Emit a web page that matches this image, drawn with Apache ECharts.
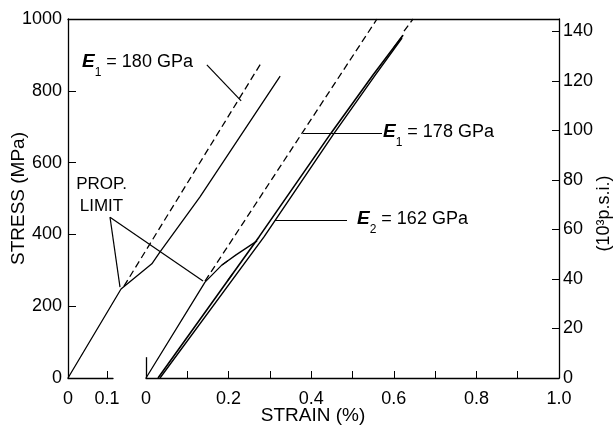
<!DOCTYPE html>
<html>
<head>
<meta charset="utf-8">
<script src="https://cdn.jsdelivr.net/npm/echarts@6/dist/echarts.min.js"></script>
<style>html,body{margin:0;padding:0;background:#fff}#c{width:616px;height:436px}</style>
</head>
<body>
<div id="c"></div>
<script>
// ---- data (strain in %, stress in MPa) ----
// first specimen, plotted against the left (short) strain origin
const curve1Strain = [0, 0.136, 0.215, 0.236, 0.338, 0.544];
const curve1Stress = [0, 248, 318, 351, 504, 841];
const tangent1Strain = [0.1436, 0.4949];          // E1 = 180 GPa
const tangent1Stress = [256, 877];
// second specimen, plotted against the right strain origin
const curve2Strain = [0, 0.1429, 0.184, 0.218, 0.269];
const curve2Stress = [0, 267, 315, 343, 382];
const loopAStrain = [0.0291, 0.2736, 0.4479, 0.5496, 0.6223];
const loopAStress = [0, 393, 682, 844, 955];
const loopBStrain = [0.0339, 0.2857, 0.4528, 0.5533, 0.6199];
const loopBStress = [0, 393, 677, 841, 947];
const tangent2Strain = [0.1429, 0.5593];          // E1 = 178 GPa
const tangent2Stress = [270, 1000];
const extStrain = [0.6247, 0.6465];
const extStress = [966, 1000];
// tick labels
const stressTicks = [0, 200, 400, 600, 800, 1000];
const psiTicks = [0, 20, 40, 60, 80, 100, 120, 140];
const strainTicksA = [0, 0.1];
const strainTicksB = [0, 0.1, 0.2, 0.3, 0.4, 0.5, 0.6, 0.7, 0.8, 0.9, 1.0];
const strainLabelsB = [0, 0.2, 0.4, 0.6, 0.8, 1.0];
// annotation arrows [from, to] in data coordinates
const arrowE180 = [[0.356, 872], [0.444, 772]];
const arrowProp1 = [[0.1077, 448], [0.1333, 253]];
const arrowProp2 = [[0.1077, 448], [0.3462, 270]];
const arrowE178 = [[0.5714, 682], [0.3801, 682]];
const arrowE162 = [[0.4867, 440], [0.3123, 440]];
const arrowCurve2 = [[0.184, 315], [0.198, 326.5]];
const arrowLoopUp = [[0.197, 270], [0.2096, 290]];
const arrowLoopTop = [[0.60, 920], [0.6223, 955]];
const breakStub = [[0, 0], [0, 58]];

const MPA_PER_KSI = 6.89476;
const FONT = '"Liberation Sans", Arial, Helvetica, sans-serif';
const zip = (a, b) => a.map((v, i) => [v, b[i]]);

const chart = echarts.init(document.getElementById('c'), null, {renderer: 'canvas'});

const arrowML = (pairs, extra) => Object.assign({
  silent: true,
  symbol: ['none', 'arrow'],
  symbolSize: [0, 9],
  label: {show: false},
  emphasis: {disabled: true},
  lineStyle: {color: '#000', type: 'solid', width: 1.2},
  data: pairs.map(p => [{coord: p[0]}, {coord: p[1]}])
}, extra || {});

const solid = (w) => ({color: '#000', width: w, type: 'solid'});
const dashed = {color: '#000', width: 1.3, type: [7, 4]};
const base = {type: 'line', showSymbol: false, symbol: 'none', silent: true, animation: false};

const option = {
  backgroundColor: '#fff',
  animation: false,
  textStyle: {fontFamily: FONT, color: '#000'},
  grid: [
    {left: 68, top: 19, right: 57, bottom: 58, outerBoundsMode: 'none', containLabel: false},   // frame
    {left: 68, top: 19, width: 45, bottom: 58, outerBoundsMode: 'none', containLabel: false},   // short strain axis
    {left: 146, top: 19, right: 57, bottom: 58, outerBoundsMode: 'none', containLabel: false}   // main strain axis
  ],
  xAxis: [
    {gridIndex: 0, type: 'value', position: 'top', min: 0, max: 491 / 390,
     axisLine: {show: true, onZero: false, lineStyle: {color: '#000', width: 1.3}},
     axisTick: {show: false}, axisLabel: {show: false}, splitLine: {show: false}},
    {gridIndex: 1, type: 'value', position: 'bottom', min: 0, max: 45 / 390,
     axisLine: {show: true, onZero: false, lineStyle: {color: '#000', width: 1.3}},
     axisTick: {show: true, inside: true, length: 7, customValues: strainTicksA, lineStyle: {color: '#000'}},
     axisLabel: {show: true, margin: 12, fontSize: 18, color: '#000', fontFamily: FONT,
       customValues: strainTicksA, formatter: v => v === 0 ? '0' : String(v)},
     splitLine: {show: false}},
    {gridIndex: 2, type: 'value', position: 'bottom', min: 0, max: 1.0, interval: 0.1,
     axisLine: {show: true, onZero: false, lineStyle: {color: '#000', width: 1.3}},
     axisTick: {show: true, inside: true, length: 7, customValues: strainTicksB, lineStyle: {color: '#000'}},
     axisLabel: {show: true, margin: 12, fontSize: 18, color: '#000', fontFamily: FONT,
       customValues: strainLabelsB,
       formatter: v => {
         const k = Math.round(v * 10);
         if (k % 2 !== 0) return '';
         return k === 0 ? '0' : (k / 10).toFixed(1);
       }},
     name: 'STRAIN (%)', nameLocation: 'middle', nameGap: 28, nameMoveOverlap: false,
     nameTextStyle: {fontSize: 19, color: '#000', fontFamily: FONT, padding: [0, 79, 0, 0]},
     splitLine: {show: false}}
  ],
  yAxis: [
    {gridIndex: 0, type: 'value', position: 'left', min: 0, max: 1000, interval: 200,
     axisLine: {show: true, onZero: false, lineStyle: {color: '#000', width: 1.3}},
     axisTick: {show: true, inside: true, length: 8, lineStyle: {color: '#000'}},
     axisLabel: {margin: 6, fontSize: 18, color: '#000', fontFamily: FONT,
       formatter: v => stressTicks.includes(v) ? String(v) : ''},
     splitLine: {show: false},
     name: 'STRESS (MPa)', nameLocation: 'middle', nameGap: 40, nameRotate: 90, nameMoveOverlap: false,
     nameTextStyle: {fontSize: 19, color: '#000', fontFamily: FONT}},
    {gridIndex: 0, type: 'value', position: 'right', min: 0, max: 1000 / MPA_PER_KSI, interval: 20,
     axisLine: {show: true, onZero: false, lineStyle: {color: '#000', width: 1.3}},
     axisTick: {show: true, inside: true, length: 7, lineStyle: {color: '#000'}},
     axisLabel: {margin: 4, fontSize: 18, color: '#000', fontFamily: FONT, showMaxLabel: false,
       formatter: v => psiTicks.includes(Math.round(v)) ? String(Math.round(v)) : ''},
     splitLine: {show: false},
     name: '(10³p.s.i.)', nameLocation: 'middle', nameGap: 36, nameRotate: 90, nameMoveOverlap: false,
     nameTextStyle: {fontSize: 18, color: '#000', fontFamily: FONT, padding: [0, 30, 0, 0]}},
    {gridIndex: 1, type: 'value', min: 0, max: 1000, show: false},
    {gridIndex: 2, type: 'value', min: 0, max: 1000, show: false}
  ],
  series: [
    Object.assign({}, base, {name: 'specimen 1', xAxisIndex: 0, yAxisIndex: 0,
      data: zip(curve1Strain, curve1Stress), lineStyle: solid(1.3),
      markLine: arrowML([arrowProp1, arrowProp2])}),
    Object.assign({}, base, {name: 'E1 180', xAxisIndex: 0, yAxisIndex: 0,
      data: zip(tangent1Strain, tangent1Stress), lineStyle: dashed,
      markLine: arrowML([arrowE180])}),
    Object.assign({}, base, {name: 'specimen 2', xAxisIndex: 2, yAxisIndex: 3,
      data: zip(curve2Strain, curve2Stress), lineStyle: solid(1.3),
      markLine: arrowML([arrowCurve2])}),
    Object.assign({}, base, {name: 'loop A', xAxisIndex: 2, yAxisIndex: 3,
      data: zip(loopAStrain, loopAStress), lineStyle: solid(1.6),
      markLine: arrowML([arrowLoopUp, arrowLoopTop], {symbolSize: [0, 10]})}),
    Object.assign({}, base, {name: 'loop B', xAxisIndex: 2, yAxisIndex: 3,
      data: zip(loopBStrain, loopBStress), lineStyle: solid(1.4),
      markLine: arrowML([breakStub], {symbol: ['none', 'none'], lineStyle: {color: '#000', type: 'solid', width: 1.3}})}),
    Object.assign({}, base, {name: 'E1 178', xAxisIndex: 2, yAxisIndex: 3,
      data: zip(tangent2Strain, tangent2Stress), lineStyle: dashed,
      markLine: arrowML([arrowE178, arrowE162])}),
    Object.assign({}, base, {name: 'ext', xAxisIndex: 2, yAxisIndex: 3,
      data: zip(extStrain, extStress), lineStyle: dashed})
  ],
  graphic: []
};

const rich = {
  e: {fontSize: 19, fontStyle: 'italic', fontWeight: 'bold', fontFamily: FONT, fill: '#000', color: '#000'},
  s: {fontSize: 12, fontFamily: FONT, padding: [22, 0, 0, 0], fill: '#000', color: '#000'},
  t: {fontSize: 18, fontFamily: FONT, fill: '#000', color: '#000'}
};
const label = (x, y, sub, rest) => ({
  type: 'text', x: x, y: y, silent: true,
  style: {text: '{e|E}{s|' + sub + '}{t| = ' + rest + '}', rich: rich,
    align: 'left', verticalAlign: 'middle', textAlign: 'left', textVerticalAlign: 'middle', fill: '#000'}
});
option.graphic = [
  label(82, 62, '1', '180 GPa'),
  label(383, 132, '1', '178 GPa'),
  label(357, 219, '2', '162 GPa'),
  {type: 'text', x: 101.5, y: 195, silent: true,
   style: {text: 'PROP.\nLIMIT', font: '17px ' + FONT, lineHeight: 22, fill: '#000',
     align: 'center', verticalAlign: 'middle', textAlign: 'center', textVerticalAlign: 'middle'}}
];

chart.setOption(option);
</script>
</body>
</html>
